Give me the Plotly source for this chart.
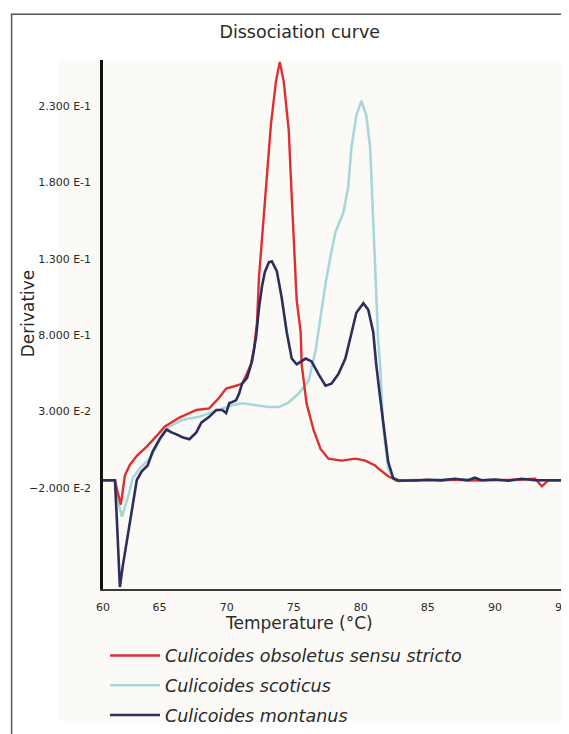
import plotly.graph_objects as go

# ---- data (temperature in °C, derivative) ----
red_T = [60.78, 61.67, 61.85, 62.11, 62.41, 62.78, 63.30, 64.04, 64.78, 65.37, 66.48, 67.0, 67.74,
         68.70, 69.44, 69.96, 70.70, 71.15, 71.52, 71.81, 72.04, 72.26, 72.41, 72.78, 73.30, 73.67,
         73.96, 74.26, 74.63, 74.85, 75.0, 75.22, 75.52, 75.59, 75.96, 76.48, 77.0, 77.59, 78.56,
         79.59, 80.33, 81.07, 81.3, 82.04, 82.78, 84.0, 85.0, 86.0, 87.0, 88.0, 89.0, 90.0, 91.0,
         92.0, 93.0, 93.5, 94.0, 95.3]
red_v = [-0.015, -0.015, -0.022, -0.031, -0.012, -0.005, 0.001, 0.007, 0.014, 0.020, 0.026, 0.028, 0.031,
         0.032, 0.039, 0.045, 0.047, 0.048, 0.055, 0.061, 0.071, 0.088, 0.118, 0.160, 0.218, 0.246,
         0.259, 0.246, 0.214, 0.171, 0.146, 0.103, 0.082, 0.061, 0.035, 0.018, 0.0055, -0.0009, -0.0022,
         -0.0009, -0.0022, -0.0054, -0.0073, -0.0124, -0.0155, -0.0150, -0.0148, -0.0152, -0.0146,
         -0.0152, -0.0149, -0.0151, -0.0148, -0.0146, -0.0140, -0.0190, -0.0150, -0.0150]

cyan_T = [60.78, 61.67, 61.81, 62.19, 62.63, 63.0, 63.52, 64.26, 64.78, 65.22, 65.74, 66.70, 67.96,
          68.93, 69.96, 70.41, 71.15, 72.19, 73.15, 73.89, 74.63, 75.37, 76.11, 76.63, 77.0, 77.37,
          77.81, 78.11, 78.70, 79.07, 79.30, 79.67, 80.04, 80.41, 80.70, 80.85, 81.0, 81.15, 81.30,
          81.44, 81.67, 82.04, 82.56, 84.0, 85.0, 86.0, 87.0, 88.0, 89.0, 90.0, 91.0, 92.0, 93.0,
          94.0, 95.3]
cyan_v = [-0.015, -0.015, -0.025, -0.039, -0.0264, -0.0136, -0.0073, -0.0009, 0.0074, 0.0163, 0.0201,
          0.0246, 0.0265, 0.0297, 0.0329, 0.0341, 0.0354, 0.0341, 0.0329, 0.0329, 0.0360, 0.0418, 0.0501,
          0.0700, 0.0927, 0.1138, 0.1348, 0.1475, 0.1603, 0.1775, 0.2029, 0.2240, 0.2335, 0.2240, 0.2029,
          0.1711, 0.1392, 0.1074, 0.0755, 0.0609, 0.0200, -0.0073, -0.0155, -0.0148, -0.0153, -0.0146,
          -0.0150, -0.0145, -0.0152, -0.0148, -0.0152, -0.0147, -0.0150, -0.0152, -0.0150]

dark_T = [60.78, 61.67, 61.81, 62.04, 62.26, 62.56, 62.93, 63.30, 63.67, 64.11, 64.48, 65.0, 65.52,
          65.89, 66.26, 66.70, 67.22, 67.74, 68.11, 68.70, 69.22, 69.67, 69.96, 70.19, 70.70, 70.93,
          71.15, 71.52, 71.89, 72.19, 72.41, 72.63, 72.85, 73.15, 73.37, 73.74, 74.11, 74.48, 74.85,
          75.22, 75.89, 76.33, 76.85, 77.37, 77.81, 78.33, 78.85, 79.30, 79.67, 80.19, 80.56, 80.93,
          81.15, 81.44, 81.81, 82.04, 82.41, 82.78, 84.0, 85.0, 86.0, 87.0, 88.0, 88.5, 89.0, 90.0,
          91.0, 92.0, 93.0, 94.0, 95.3]
dark_v = [-0.015, -0.015, -0.040, -0.085, -0.071, -0.054, -0.033, -0.0149, -0.0092, -0.0054, 0.0037,
          0.0118, 0.0182, 0.0163, 0.0150, 0.0131, 0.0118, 0.0163, 0.0227, 0.0265, 0.0310, 0.0310, 0.0290,
          0.0354, 0.0373, 0.0418, 0.0482, 0.0520, 0.0628, 0.0787, 0.0978, 0.1119, 0.1214, 0.1278, 0.1284,
          0.1220, 0.1042, 0.0819, 0.0647, 0.0609, 0.0647, 0.0628, 0.0545, 0.0469, 0.0482, 0.0545, 0.0647,
          0.0819, 0.0947, 0.1010, 0.0966, 0.0819, 0.0609, 0.0392, 0.0138, -0.0028, -0.0136, -0.0150,
          -0.0152, -0.0147, -0.0150, -0.0141, -0.0150, -0.0134, -0.0150, -0.0146, -0.0154, -0.0141,
          -0.0150, -0.0151, -0.0150]

names = ["Culicoides obsoletus sensu stricto", "Culicoides scoticus", "Culicoides montanus"]
colors = ["#dd2f31", "#a7d7d9", "#2c2f5c"]
widths = [2.4, 2.6, 2.6]

y_tickvals = [0.23, 0.18, 0.13, 0.08, 0.03, -0.02]
y_ticktext = ["2.300 E-1", "1.800 E-1", "1.300 E-1", "8.000 E-1", "3.000 E-2", "\u22122.000 E-2"]
x_tickvals = [60.78, 65, 70, 75, 80, 85, 90, 95]
x_ticktext = ["60", "65", "70", "75", "80", "85", "90", "95"]

FONT = "DejaVu Sans"
TXT = "#2a2a2a"

# page body has an 8px margin; figure is sized so the page matches 569x734
W, H = 561, 726
L, T_, B = 95, 52, 130
PW, PH = W - L, H - T_ - B  # 466 x 544


def px(x):  # window x pixel -> paper x
    return (x - 8 - L) / PW


def py(y):  # window y pixel -> paper y
    return (H - B - (y - 8)) / PH


fig = go.Figure()
order = [(1, cyan_T, cyan_v), (0, red_T, red_v), (2, dark_T, dark_v)]
for idx, T, v in order:
    fig.add_trace(go.Scatter(
        x=T, y=v, mode="lines", name=names[idx],
        line=dict(color=colors[idx], width=widths[idx]),
        legendrank=idx + 1, legendgroup=str(idx)))

fig.update_layout(
    width=W, height=H,
    margin=dict(l=L, r=0, t=T_, b=B),
    paper_bgcolor="white",
    plot_bgcolor="#fcfaf7",
    showlegend=True,
    font=dict(family=FONT, color=TXT, size=11),
    title=dict(text="Dissociation curve", x=px(301), xref="paper", xanchor="center",
               y=1 - 24 / H, yref="container", yanchor="middle",
               font=dict(family=FONT, size=17.5, color=TXT)),
    xaxis=dict(range=[60.78, 95.3], tickvals=x_tickvals, ticktext=x_ticktext,
               showgrid=False, zeroline=False, showline=True, linecolor="#3a3a3a",
               linewidth=2, ticks="", ticklabelstandoff=7, ticklabeloverflow="allow",
               tickfont=dict(size=11, color=TXT)),
    yaxis=dict(range=[-0.0863, 0.2603], tickvals=y_tickvals, ticktext=y_ticktext,
               showgrid=False, zeroline=False, showline=True, linecolor="#111111",
               linewidth=2.5, ticks="", ticklabelstandoff=7,
               tickfont=dict(size=11, color=TXT)),
    legend=dict(x=px(105), y=py(654), xanchor="left", yanchor="top",
                bgcolor="rgba(0,0,0,0)", traceorder="grouped", tracegroupgap=4,
                itemwidth=50,
                font=dict(family=FONT, size=17.5, color=TXT, style="italic")),
)

# cream background behind labels, and frame lines
fig.add_shape(type="rect", xref="paper", yref="paper", x0=px(58), x1=1.0,
              y0=-0.25, y1=0.0, fillcolor="#fcfaf7", line=dict(width=0), layer="below")
fig.add_shape(type="rect", xref="paper", yref="paper", x0=px(58), x1=0.0,
              y0=0.0, y1=1.0, fillcolor="#fcfaf7", line=dict(width=0), layer="below")
fig.add_shape(type="path", xref="paper", yref="paper",
              path=f"M {px(11)},-0.3 L {px(11)},{py(13)} L 1.2,{py(13)}",
              line=dict(color="#555555", width=1.5))

fig.add_annotation(text="Derivative", textangle=-90, xref="paper", yref="paper",
                   x=px(27), y=py(320), showarrow=False,
                   xanchor="center", yanchor="middle", font=dict(family=FONT, size=17, color=TXT))
fig.add_annotation(text="Temperature (\u00b0C)", xref="paper", yref="paper",
                   x=px(300), y=py(639), showarrow=False,
                   xanchor="center", yanchor="middle", font=dict(family=FONT, size=17, color=TXT))

fig.write_html("out.html")
